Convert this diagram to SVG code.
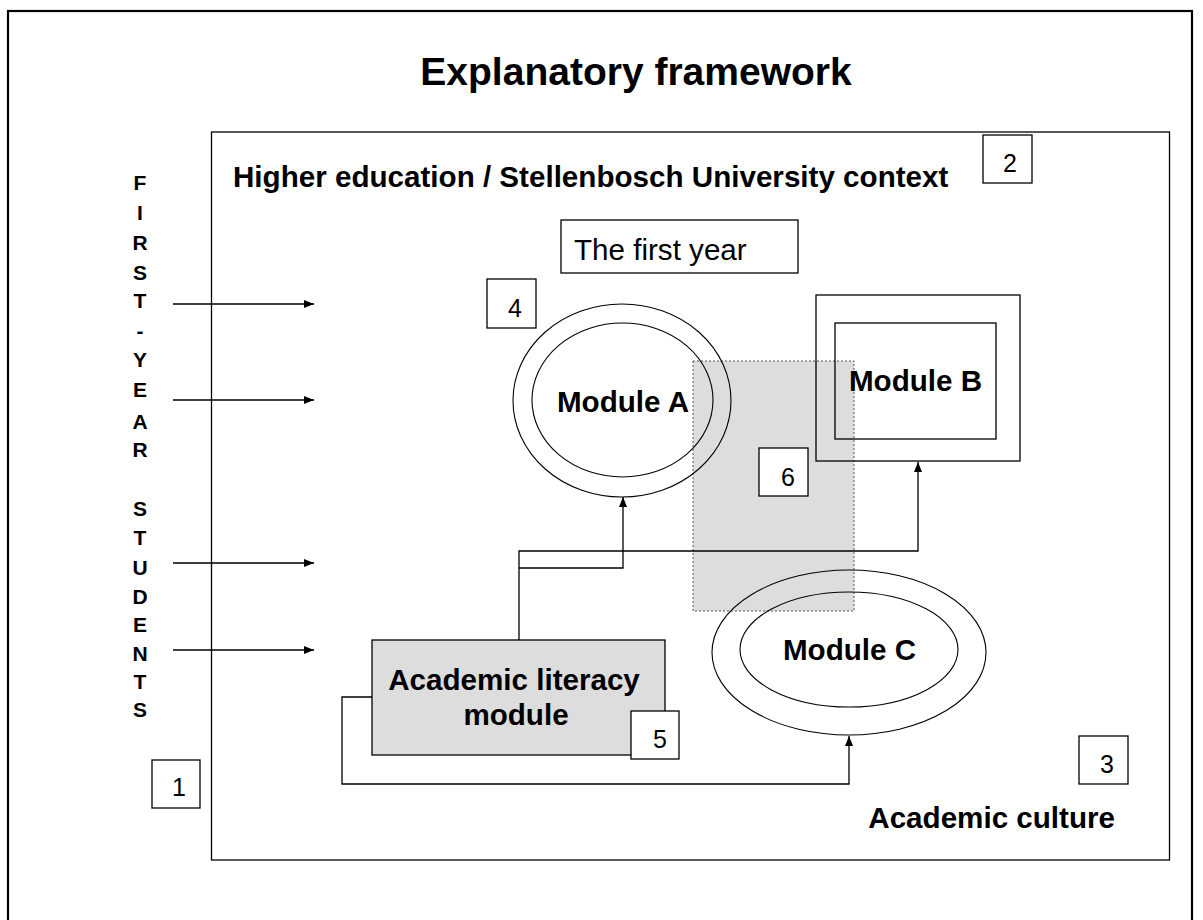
<svg xmlns="http://www.w3.org/2000/svg" width="1203" height="920" viewBox="0 0 1203 920">
<style>
.b{font-family:"Liberation Sans",Arial,sans-serif;font-weight:bold;font-size:29.6px;fill:#000}
.r{font-family:"Liberation Sans",Arial,sans-serif;font-size:29.6px;fill:#000}
.n{font-family:"Liberation Sans",Arial,sans-serif;font-size:25px;fill:#000}
.v{font-family:"Liberation Sans",Arial,sans-serif;font-weight:bold;font-size:21px;fill:#000;text-anchor:middle}
.ln{fill:none;stroke:#000;stroke-width:1.3}
.th{fill:none;stroke:#000;stroke-width:1.1}
.box{fill:#fff;stroke:#000;stroke-width:1.3}
</style>
<defs>
<marker id="ah" viewBox="0 0 10 10" refX="10" refY="5" markerWidth="10" markerHeight="10" markerUnits="userSpaceOnUse" orient="auto">
<path d="M0,1 L10,5 L0,9 Z" fill="#000"/>
</marker>
</defs>
<rect x="0" y="0" width="1203" height="920" fill="#fff"/>
<rect x="8" y="11" width="1184" height="930" fill="none" stroke="#000" stroke-width="2.2"/>
<text x="636" y="85" font-family="Liberation Sans,Arial,sans-serif" font-weight="bold" font-size="39px" text-anchor="middle">Explanatory framework</text>

<g id="context">
<rect x="211.5" y="132" width="958" height="728" class="ln"/>
<text x="233" y="187" class="b">Higher education / Stellenbosch University context</text>
<text x="1115" y="828" class="b" text-anchor="end">Academic culture</text>
</g>

<g id="overlap">
<rect x="693" y="361" width="161" height="250" fill="#dddddd" stroke="#555" stroke-width="1" stroke-dasharray="2,2"/>
</g>

<g id="students">
<text class="v" x="140" y="190">F</text>
<text class="v" x="140" y="220">I</text>
<text class="v" x="140" y="250">R</text>
<text class="v" x="140" y="280">S</text>
<text class="v" x="140" y="308">T</text>
<text class="v" x="140" y="338">-</text>
<text class="v" x="140" y="367">Y</text>
<text class="v" x="140" y="397">E</text>
<text class="v" x="140" y="429">A</text>
<text class="v" x="140" y="457">R</text>
<text class="v" x="140" y="516">S</text>
<text class="v" x="140" y="545">T</text>
<text class="v" x="140" y="575">U</text>
<text class="v" x="140" y="604">D</text>
<text class="v" x="140" y="632">E</text>
<text class="v" x="140" y="661">N</text>
<text class="v" x="140" y="689">T</text>
<text class="v" x="140" y="717">S</text>
</g>

<g id="firstyear">
<rect x="561" y="220" width="237" height="53" class="box"/>
<text x="574" y="260" class="r">The first year</text>
</g>

<g id="moduleA">
<ellipse cx="622" cy="400.5" rx="109" ry="96.5" class="th"/>
<ellipse cx="622.5" cy="400" rx="90.5" ry="77" class="th"/>
<text x="623" y="412" class="b" text-anchor="middle">Module A</text>
</g>

<g id="moduleB">
<rect x="816" y="295" width="204" height="166" class="ln"/>
<rect x="835" y="323" width="161" height="116" class="ln"/>
<text x="915.5" y="391" class="b" text-anchor="middle">Module B</text>
</g>

<g id="moduleC">
<ellipse cx="849" cy="652.5" rx="137" ry="82.5" class="th"/>
<ellipse cx="849" cy="649.5" rx="109" ry="57.5" class="th"/>
<text x="849.5" y="660" class="b" text-anchor="middle">Module C</text>
</g>

<g id="connectors">
<line x1="173" y1="304" x2="314" y2="304" class="ln" marker-end="url(#ah)"/>
<line x1="173" y1="400" x2="314" y2="400" class="ln" marker-end="url(#ah)"/>
<line x1="173" y1="563" x2="314" y2="563" class="ln" marker-end="url(#ah)"/>
<line x1="173" y1="650" x2="314" y2="650" class="ln" marker-end="url(#ah)"/>
<polyline points="519,640 519,551 918,551 918,462" class="ln" marker-end="url(#ah)"/>
<polyline points="519,568 623,568 623,497" class="ln" marker-end="url(#ah)"/>
<polyline points="372,697 342,697 342,784 849,784 849,736" class="ln" marker-end="url(#ah)"/>
</g>

<g id="literacy">
<rect x="372" y="640" width="293" height="115" fill="#dddddd" stroke="#000" stroke-width="1.3"/>
<text x="514" y="690" class="b" text-anchor="middle">Academic literacy</text>
<text x="516" y="725" class="b" text-anchor="middle">module</text>
</g>

<g id="label1"><rect x="152" y="760" width="48" height="48" class="box"/><text x="172" y="796" class="n">1</text></g>
<g id="label2"><rect x="983" y="135" width="49" height="48" class="box"/><text x="1003" y="172" class="n">2</text></g>
<g id="label3"><rect x="1079" y="736" width="49" height="48" class="box"/><text x="1100" y="773" class="n">3</text></g>
<g id="label4"><rect x="487" y="279" width="49" height="49" class="box"/><text x="508" y="317" class="n">4</text></g>
<g id="label5"><rect x="631" y="711" width="48" height="48" class="box"/><text x="653" y="748" class="n">5</text></g>
<g id="label6"><rect x="759" y="448" width="49" height="48" class="box"/><text x="781" y="486" class="n">6</text></g>
</svg>
